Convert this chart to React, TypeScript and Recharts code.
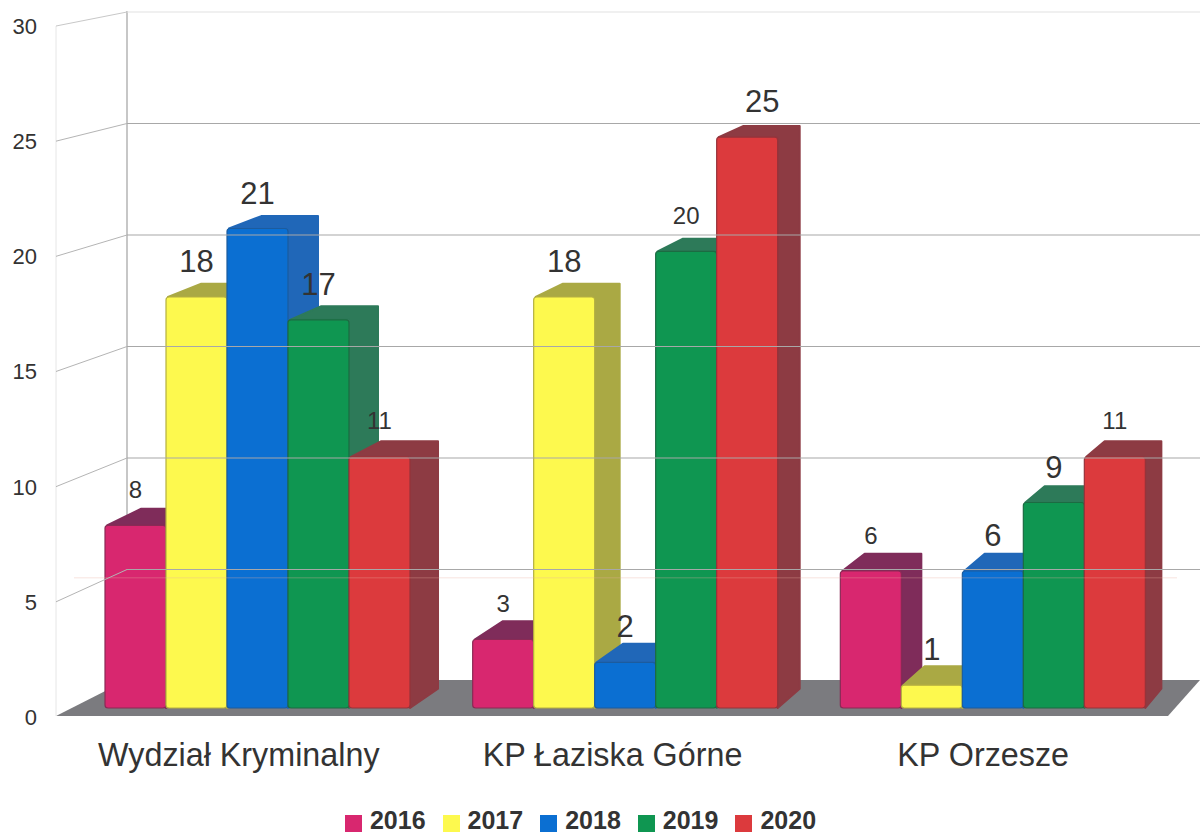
import { BarChart, Bar, XAxis, YAxis, Legend, LabelList, Customized, ReferenceLine } from 'recharts';

const categories = ['Wydział Kryminalny', 'KP Łaziska Górne', 'KP Orzesze'];
const values2016 = [8, 3, 6];
const values2017 = [18, 18, 1];
const values2018 = [21, 2, 6];
const values2019 = [17, 20, 9];
const values2020 = [11, 25, 11];
const years = ['2016', '2017', '2018', '2019', '2020'];
const yTicks = [0, 5, 10, 15, 20, 25, 30];

const chartData = categories.map((name, i) => ({
  name,
  '2016': values2016[i],
  '2017': values2017[i],
  '2018': values2018[i],
  '2019': values2019[i],
  '2020': values2020[i],
}));

// face colours per year: front, side/top
const frontColors = ['#d8276f', '#fdf94e', '#0b6fd2', '#0f9651', '#dc3a3d'];
const sideColors = ['#7f2c5a', '#aaa944', '#2067b8', '#2d7a59', '#8d3b43'];
const edgeColors = ['#8a2a55', '#b5b040', '#1c5c9e', '#1c6b42', '#96333a'];

// data label font sizes, the scan has two sizes mixed together
const labelSizes = [
  [24, 24, 24],
  [31, 31, 31],
  [31, 31, 31],
  [31, 24, 31],
  [24, 31, 24],
];
const labelShiftX = [
  [0, 0, 0],
  [0, 0, 0],
  [0, 0, 0],
  [0, 0, 0],
  [0, 15, 0],
];
const categoryShiftX = [-19, -13, -10];

const textColor = '#333333';
const wallLeft = 127;
const frontLeft = 56;

// the back wall is a bit smaller than the front plane
const backY = (v: number) => 681 - 22.3 * v;

function Walls() {
  return (
    <g>
      <polygon points="56,716 127,680 1200,680 1168,716" fill="#7b7b7f" />
      <line x1={frontLeft} y1={26} x2={frontLeft} y2={716} stroke="#e6e6e6" />
      <line x1={wallLeft} y1={11} x2={wallLeft} y2={681} stroke="#a2a2a2" strokeWidth={1.2} />
    </g>
  );
}

// the labels sit on the front plane, 9px under the columns' zero line and spaced a little wider
function YTick({ y, payload }: any) {
  const v = payload.value;
  const frontY = y + 9 - 0.2 * v;
  return (
    <g>
      {v > 0 && (
        <>
          <line x1={frontLeft} y1={frontY} x2={wallLeft} y2={backY(v)} stroke={v === 30 ? '#c8c8c8' : '#b4b4b4'} />
          <line x1={wallLeft} y1={backY(v)} x2={1200} y2={backY(v)} stroke={v === 30 ? '#e2e2e2' : '#a8a8a8'} strokeWidth={1.2} />
        </>
      )}
      <text x={37} y={frontY} dy={8} textAnchor="end" fontSize={22} fill={textColor} fontFamily="Liberation Sans">
        {v}
      </text>
    </g>
  );
}

function XTick({ x, y, payload, index }: any) {
  return (
    <text x={x + categoryShiftX[index]} y={y} dy={41} textAnchor="middle" fontSize={32.3} fill={textColor} fontFamily="Liberation Sans">
      {payload.value}
    </text>
  );
}

// 3D column: faces recede toward a vanishing point to the upper right
function Column3D(props: any, s: number) {
  const { x, y, width, height } = props;
  if (!height) return null;
  const r = x + width;
  const b = y + height;
  const dxL = 38 - 0.0163 * x;
  const dxR = 34.7 - 0.0163 * r;
  const dyTop = 11 + (y - 133) * 0.0144;
  const dyBot = 11 + (b - 133) * 0.0144;
  return (
    <g>
      <polygon
        points={`${x + 2},${y} ${x + dxL},${y - dyTop} ${r + dxR},${y - dyTop} ${r + dxR},${b - dyBot} ${r},${b} ${r},${y}`}
        fill={sideColors[s]}
        stroke={sideColors[s]}
        strokeWidth={2}
        strokeLinejoin="round"
      />
      <rect x={x} y={y} width={width} height={height} rx={3} fill={frontColors[s]} stroke={edgeColors[s]} strokeWidth={1.2} />
    </g>
  );
}

function DataLabel(props: any, s: number) {
  const { x, y, width, value, index } = props;
  return (
    <text
      x={x + width / 2 + labelShiftX[s][index]}
      y={y - 36}
      dy={labelSizes[s][index] * 0.36}
      textAnchor="middle"
      fontSize={labelSizes[s][index]}
      fill={textColor}
      fontFamily="Liberation Sans"
    >
      {value}
    </text>
  );
}

export default function App() {
  return (
    <div style={{ position: 'absolute', left: 0, top: 0, width: 1200, height: 834, background: '#fff' }}>
      <BarChart
        width={1200}
        height={834}
        data={chartData}
        margin={{ top: 12, right: 23, bottom: 38, left: 0 }}
        barCategoryGap={31}
        barGap={0}
      >
        <Customized component={Walls} />
        <XAxis dataKey="name" height={50} axisLine={false} tickLine={false} interval={0} tick={XTick} />
        <YAxis
          width={74}
          domain={[-0.395, 30.482]}
          ticks={yTicks}
          axisLine={false}
          tickLine={false}
          interval={0}
          tick={YTick}
        />
        {years.map((year, s) => (
          <Bar
            key={year}
            dataKey={year}
            fill={frontColors[s]}
            isAnimationActive={false}
            shape={(p: any) => Column3D(p, s)}
          >
            <LabelList dataKey={year} content={(p: any) => DataLabel(p, s)} />
          </Bar>
        ))}
        <ReferenceLine y={5.7} stroke="#e8b0a0" strokeOpacity={0.35} />
        <Legend
          iconType="square"
          iconSize={17}
          layout="horizontal"
          wrapperStyle={{ position: 'absolute', left: 339, top: 804, width: 500, bottom: 'auto', textAlign: 'left' }}
          formatter={(value: string) => (
            <span style={{ fontFamily: 'Liberation Sans', fontWeight: 700, fontSize: 25, color: textColor, marginLeft: 4, marginRight: 7, position: 'relative', top: 2 }}>
              {value}
            </span>
          )}
        />
      </BarChart>
    </div>
  );
}
